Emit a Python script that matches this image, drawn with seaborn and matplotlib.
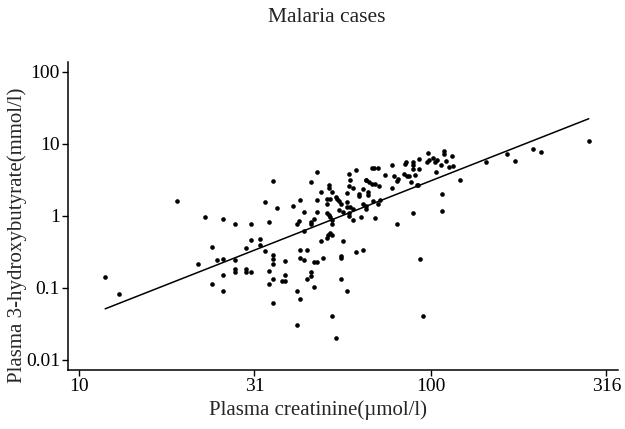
import numpy as np
import pandas as pd
import seaborn as sns
import matplotlib
matplotlib.use('Agg')
import matplotlib.pyplot as plt

# values (umol/l, mmol/l)
creatinine = [
    11.9, 13.0, 19.0, 21.9, 22.8, 23.9, 24.0, 24.8, 25.8, 25.8,
    25.8, 25.8, 27.9, 27.9, 27.9, 27.9, 29.9, 29.9, 29.9, 30.9,
    30.9, 30.9, 32.8, 32.8, 33.9, 33.9, 34.8, 34.8, 34.8, 35.7,
    35.7, 35.7, 35.7, 35.7, 35.7, 36.6, 37.8, 38.6, 38.6, 38.6,
    40.7, 41.8, 42.4, 42.7, 42.7, 42.7, 43.6, 43.7, 43.7, 41.8,
    42.7, 41.8, 44.7, 44.7, 45.6, 45.6, 45.6, 46.5, 45.6, 45.6,
    46.8, 46.8, 47.7, 47.5, 47.5, 47.5, 48.7, 48.7, 49.4, 50.7,
    51.2, 51.8, 52.6, 50.7, 50.8, 51.8, 51.5, 51.5, 52.6, 50.7,
    51.5, 51.8, 52.6, 52.6, 52.6, 53.9, 53.9, 54.4, 55.1, 55.5,
    55.1, 56.3, 56.3, 55.5, 55.5, 55.5, 57.8, 57.8, 57.8, 58.6,
    61.3, 59.2, 58.6, 60.4, 57.8, 59.2, 60.4, 58.6, 60.4, 58.6,
    61.3, 64.4, 62.6, 62.6, 63.3, 64.4, 65.7, 66.3, 66.3, 64.4,
    65.4, 65.7, 65.4, 66.7, 68.0, 68.0, 69.2, 70.7, 69.5, 71.4,
    68.5, 70.7, 72.0, 69.5, 74.4, 77.6, 78.8, 81.0, 80.4, 77.6,
    80.4, 84.5, 85.2, 83.9, 85.6, 86.7, 87.9, 89.4, 89.4, 89.4,
    90.4, 91.4, 92.3, 92.9, 92.9, 89.0, 93.1, 95.4, 98.6, 97.7,
    99.0, 101.8, 103.0, 104.3, 103.6, 109.0, 109.0, 107.3, 110.5, 108.0,
    108.0, 114.9, 113.1, 115.9, 121.3, 143.5, 164.6, 174.2, 195.5, 206.5,
    281.5,
]
hydroxybutyrate = [
    0.144, 0.082, 1.59, 0.213, 0.98, 0.375, 0.112, 0.242, 0.91, 0.252,
    0.151, 0.092, 0.78, 0.242, 0.186, 0.165, 0.355, 0.186, 0.165, 0.78,
    0.46, 0.165, 0.48, 0.40, 1.57, 0.328, 0.82, 0.173, 0.112, 3.05,
    0.287, 0.254, 0.213, 0.134, 0.0619, 1.27, 0.124, 0.238, 0.151, 0.124,
    1.39, 0.76, 0.84, 1.66, 0.341, 0.262, 0.246, 1.14, 0.61, 0.0915,
    0.0704, 0.0307, 0.341, 0.134, 2.92, 0.76, 0.83, 0.90, 0.164, 0.148,
    0.102, 0.227, 0.227, 4.12, 1.65, 1.14, 2.13, 0.45, 0.262, 0.49,
    0.54, 0.57, 0.54, 1.44, 1.74, 1.74, 2.64, 2.45, 2.16, 1.10,
    1.02, 0.95, 0.87, 0.76, 0.0409, 0.0201, 1.85, 1.73, 1.61, 1.44,
    1.20, 1.13, 0.45, 0.275, 0.262, 0.134, 0.0915, 1.56, 2.09, 3.84,
    4.29, 3.12, 2.62, 2.43, 1.33, 1.33, 1.26, 0.99, 0.88, 1.08,
    0.32, 0.341, 2.03, 1.91, 0.95, 2.39, 3.12, 2.16, 1.95, 1.48,
    1.25, 1.38, 3.19, 2.95, 2.81, 4.62, 4.62, 4.62, 2.79, 2.57,
    1.62, 1.46, 1.68, 0.94, 3.68, 5.03, 3.58, 3.22, 3.02, 2.44,
    0.76, 5.31, 5.59, 3.78, 3.54, 3.54, 2.95, 5.59, 5.03, 4.43,
    3.66, 2.66, 2.66, 6.10, 4.43, 1.10, 0.252, 0.0409, 7.55, 5.59,
    5.90, 6.35, 5.59, 5.90, 4.06, 7.87, 7.22, 5.15, 5.72, 2.01,
    1.15, 6.71, 4.77, 4.92, 3.19, 5.54, 7.31, 5.77, 8.39, 7.70,
    11.08,
]

# fitted line on log10 scale
fit_slope = 1.92
fit_intercept = -3.355

x_ticks = [10, 31.6, 100, 316]
x_tick_labels = ['10', '31', '100', '316']
y_ticks = [0.01, 0.1, 1, 10, 100]
y_tick_labels = ['0.01', '0.1', '1', '10', '100']

df = pd.DataFrame({'creatinine': creatinine, 'hb': hydroxybutyrate})
line_x = np.array([min(creatinine), max(creatinine)])
line = pd.DataFrame({'x': line_x,
                     'y': 10 ** (fit_intercept + fit_slope * np.log10(line_x))})

sns.set_style('ticks')
plt.rcParams['font.family'] = ['Liberation Serif', 'DejaVu Serif']
plt.rcParams['mathtext.fontset'] = 'stix'

fig = plt.figure(figsize=(6.25, 4.29), dpi=100)
ax = fig.add_axes([0.1093, 0.1375, 0.8789, 0.7186])

sns.scatterplot(data=df, x='creatinine', y='hb', color='black', s=11,
                linewidth=0, ax=ax)
sns.lineplot(data=line, x='x', y='y', color='black', linewidth=1.1, ax=ax)

ax.set_xscale('log')
ax.set_yscale('log')
ax.set_xlim(9.35, 340)
ax.set_ylim(0.00726, 137.7)
ax.set_xticks(x_ticks)
ax.set_xticklabels(x_tick_labels)
ax.set_yticks(y_ticks)
ax.set_yticklabels(y_tick_labels)
ax.minorticks_off()
ax.tick_params(axis='both', labelsize=14, length=4, width=1, color='black',
               labelcolor='black', pad=2)

sns.despine(ax=ax)
for side in ['left', 'bottom']:
    ax.spines[side].set_linewidth(1.1)
    ax.spines[side].set_color('black')

ax.set_xlabel('Plasma creatinine(µmol/l)', fontsize=15, va='center')
ax.xaxis.set_label_coords(0.454, -0.13)
ax.set_ylabel('Plasma 3-hydroxybutyrate(mmol/l)', fontsize=15, va='center')
ax.yaxis.set_label_coords(-0.093, 0.438)

fig.text(0.522, 0.96, 'Malaria cases', fontsize=15.5, ha='center',
         va='center', color='#222222')

fig.savefig('out.png', dpi=100)
